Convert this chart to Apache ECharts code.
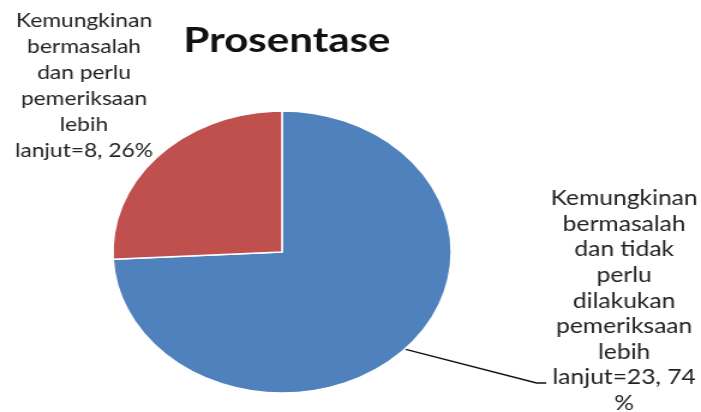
<!DOCTYPE html>
<html>
<head>
<meta charset="utf-8">
<script src="https://cdn.jsdelivr.net/npm/echarts@6/dist/echarts.min.js"></script>
<style>
  html, body { margin: 0; padding: 0; background: #fff; overflow: hidden; }
  /* the original picture is stretched horizontally, so draw narrow and scale */
  #chart { width: 584px; height: 412px; transform: scaleX(1.2003); transform-origin: 0 0; }
</style>
</head>
<body>
<div id="chart"></div>
<script>
  const categories = [
    'Kemungkinan\nbermasalah\ndan tidak\nperlu\ndilakukan\npemeriksaan\nlebih\nlanjut',
    'Kemungkinan\nbermasalah\ndan perlu\npemeriksaan\nlebih\nlanjut'
  ]
  const values = [23.74, 8.26]
  const percentSuffix = ['\n%', '%']
  const colors = ['#4f81bd', '#c0504d']

  function fmt(v) {
    return v.toFixed(2).replace('.', ', ')
  }

  const chart = echarts.init(document.getElementById('chart'))
  chart.setOption({
    color: colors,
    title: {
      text: 'Prosentase',
      left: 234,
      textAlign: 'center',
      top: 18,
      textStyle: {
        fontFamily: 'Lato',
        fontWeight: 'bold',
        fontSize: 35,
        color: '#111'
      }
    },
    series: [
      {
        type: 'pie',
        center: [235, 252],
        radius: 141,
        startAngle: 90,
        avoidLabelOverlap: false,
        itemStyle: {
          borderColor: '#fff',
          borderWidth: 1.5
        },
        label: {
          show: true,
          position: 'outside',
          fontFamily: 'Lato',
          fontSize: 19.5,
          color: '#222',
          align: 'center',
          lineHeight: 26,
          formatter: function(p) {
            return p.name + '=' + fmt(p.value) + percentSuffix[p.dataIndex]
          }
        },
        labelLine: {
          show: true,
          lineStyle: { color: '#111', width: 1.5 }
        },
        labelLayout: function(params) {
          if (params.dataIndex === 0) {
            const start = params.labelLinePoints ? params.labelLinePoints[0] : [337, 349]
            return {
              x: 520,
              y: 301,
              align: 'center',
              verticalAlign: 'middle',
              labelLinePoints: [start, [447, 383], [455, 383]]
            }
          }
          return {
            x: 70,
            y: 86,
            align: 'center',
            verticalAlign: 'middle'
          }
        },
        data: values.map((v, i) => ({
          value: v,
          name: categories[i],
          labelLine: { show: i === 0 },
          label: { lineHeight: i === 0 ? 25.6 : 26, fontSize: i === 0 ? 20.5 : 19 }
        }))
      }
    ]
  })
</script>
</body>
</html>
